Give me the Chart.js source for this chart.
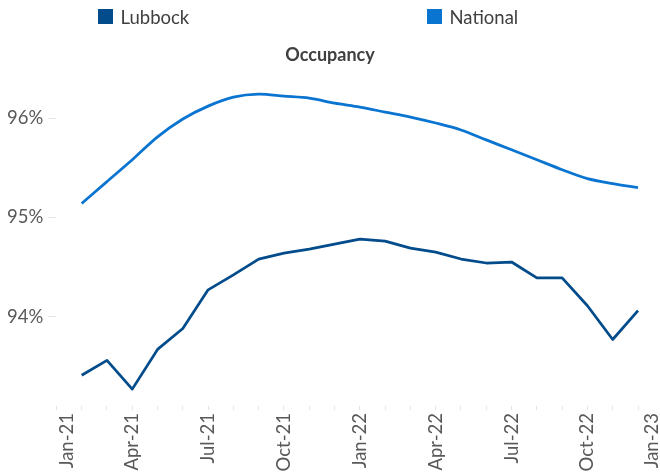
<!DOCTYPE html>
<html>
<head>
<meta charset="utf-8">
<script src="https://cdn.jsdelivr.net/npm/chart.js@4"></script>
<style>
  html, body { margin: 0; padding: 0; background: #fff; overflow: hidden; }
  #wrap { position: relative; width: 660px; height: 473px; }
</style>
</head>
<body>
<div id="wrap"><canvas id="c" width="660" height="473"></canvas></div>
<script>
// ---- data ----
const months = ['Feb-21','Mar-21','Apr-21','May-21','Jun-21','Jul-21','Aug-21','Sep-21','Oct-21','Nov-21','Dec-21',
                'Jan-22','Feb-22','Mar-22','Apr-22','May-22','Jun-22','Jul-22','Aug-22','Sep-22','Oct-22','Nov-22','Dec-22'];
const lubbock = [93.41, 93.56, 93.27, 93.67, 93.88, 94.27, 94.42, 94.58, 94.64, 94.68, 94.73,
                 94.78, 94.76, 94.69, 94.65, 94.58, 94.54, 94.55, 94.39, 94.39, 94.11, 93.77, 94.06];
const national = [95.14, 95.36, 95.58, 95.81, 95.99, 96.12, 96.21, 96.24, 96.22, 96.20, 96.15,
                  96.11, 96.06, 96.01, 95.95, 95.88, 95.78, 95.68, 95.58, 95.48, 95.39, 95.34, 95.30];
const xTickLabels = ['Jan-21','Apr-21','Jul-21','Oct-21','Jan-22','Apr-22','Jul-22','Oct-22','Jan-23'];
const yTickValues = [94, 95, 96];
const seriesNames = ['Lubbock', 'National'];
const colors = ['#034C8C', '#0A74D1'];

// month offset from Jan-21 for each category
const monthIndex = (lbl) => {
  const names = ['Jan','Feb','Mar','Apr','May','Jun','Jul','Aug','Sep','Oct','Nov','Dec'];
  const [m, y] = lbl.split('-');
  return (parseInt(y, 10) - 21) * 12 + names.indexOf(m);
};
const toPoints = (vals) => vals.map((v, i) => ({ x: monthIndex(months[i]), y: v }));

const FONT = 'Lato, "Noto Sans", sans-serif';

const legendPlugin = {
  id: 'customLegend',
  afterDraw(chart) {
    const ctx = chart.ctx;
    const items = [{ x: 98, text: seriesNames[0], color: colors[0] }, { x: 427, text: seriesNames[1], color: colors[1] }];
    ctx.save();
    ctx.font = '18.5px ' + FONT;
    ctx.textBaseline = 'alphabetic';
    ctx.textAlign = 'left';
    items.forEach(it => {
      ctx.fillStyle = it.color;
      ctx.fillRect(it.x, 9, 15, 15);
      ctx.fillStyle = '#404040';
      ctx.fillText(it.text, it.x + 22.5, 24.3);
    });
    ctx.restore();
  }
};

new Chart(document.getElementById('c'), {
  type: 'line',
  data: {
    datasets: [
      { label: seriesNames[0], data: toPoints(lubbock), borderColor: colors[0], backgroundColor: colors[0],
        borderWidth: 2.75, pointRadius: 0, tension: 0, borderJoinStyle: 'round' },
      { label: seriesNames[1], data: toPoints(national), borderColor: colors[1], backgroundColor: colors[1],
        borderWidth: 2.75, pointRadius: 0, tension: 0.3, borderJoinStyle: 'round' }
    ]
  },
  options: {
    responsive: false,
    animation: false,
    events: [],
    layout: { padding: 0 },
    plugins: {
      legend: { display: false },
      tooltip: { enabled: false },
      title: {
        display: true,
        text: 'Occupancy',
        color: '#404040',
        font: { family: FONT, size: 18, weight: 'bold', lineHeight: 1.2 },
        padding: { top: 44.2, bottom: 2.6 }
      }
    },
    scales: {
      x: {
        type: 'linear',
        min: 0,
        max: 23.87,
        afterBuildTicks(scale) {
          const ticks = [];
          for (let m = 0; m <= 23; m++) {
            const k = xTickLabels.findIndex((_, j) => j * 3 === m);
            ticks.push({ value: m, txt: (k > 0 && m > 0) ? xTickLabels[k] : '', mark: true });
          }
          // edge labels nudged inside the plot, as in the reference
          ticks.push({ value: 0.43, txt: xTickLabels[0], mark: false });
          ticks.push({ value: 23.54, txt: xTickLabels[xTickLabels.length - 1], mark: false });
          ticks.sort((a, b) => a.value - b.value);
          scale.ticks = ticks;
        },
        afterFit(scale) {
          scale.height = 67;
          scale.paddingLeft = 0;
          scale.paddingRight = 0;
        },
        border: { display: false },
        grid: {
          drawOnChartArea: false,
          drawTicks: true,
          tickLength: 4,
          lineWidth: 1,
          color: (ctx) => (ctx.tick && ctx.tick.mark) ? '#e4e4e4' : 'rgba(0,0,0,0)'
        },
        ticks: {
          autoSkip: false,
          minRotation: 90,
          maxRotation: 90,
          padding: 3,
          color: '#595959',
          font: { family: FONT, size: 18.5 },
          callback: (value, index, ticks) => ticks[index].txt || ''
        }
      },
      y: {
        min: 93.1,
        max: 96.5,
        afterBuildTicks(scale) {
          scale.ticks = yTickValues.map(v => ({ value: v }));
        },
        afterFit(scale) {
          scale.width = 56.4;
          scale.paddingTop = 0;
          scale.paddingBottom = 0;
        },
        border: { display: false },
        grid: {
          drawOnChartArea: false,
          drawTicks: true,
          tickLength: 8,
          color: '#e4e4e4'
        },
        ticks: {
          padding: 5,
          color: '#595959',
          font: { family: FONT, size: 18.5 },
          callback: (v) => v + '%'
        }
      }
    }
  },
  plugins: [legendPlugin]
});
</script>
</body>
</html>
